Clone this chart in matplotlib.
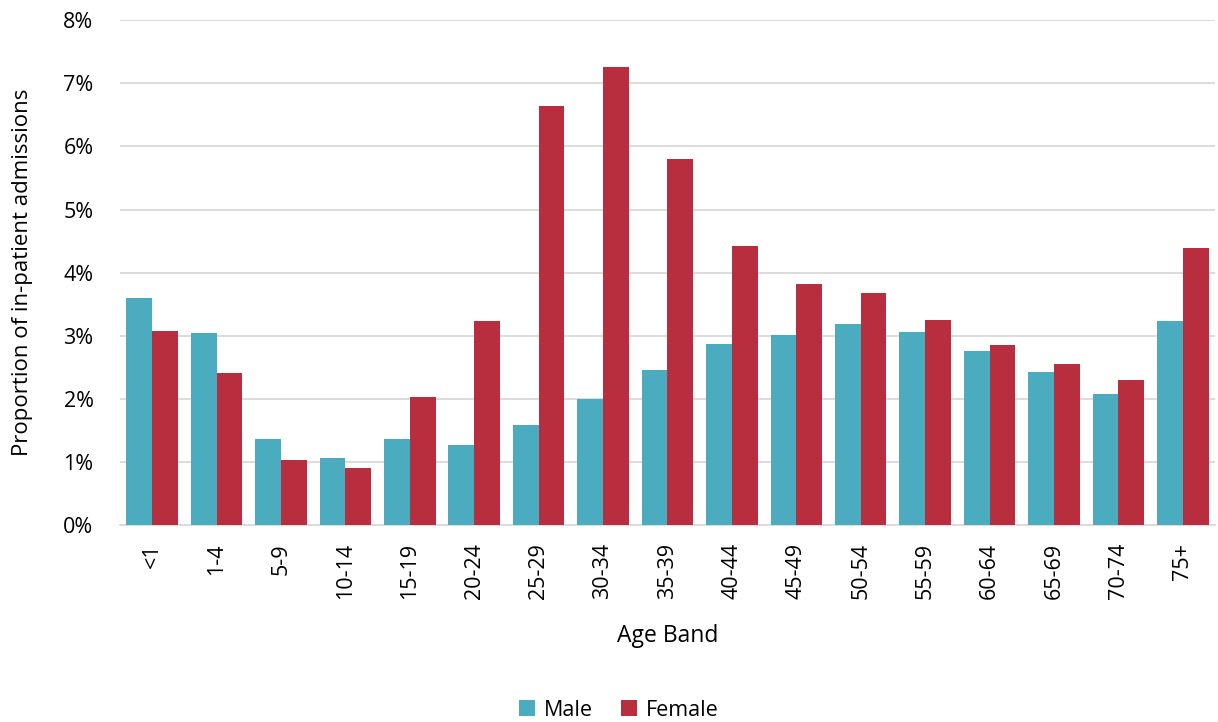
import matplotlib
matplotlib.use('Agg')
import matplotlib.pyplot as plt
import numpy as np

plt.rcParams['font.family'] = ['Open Sans', 'DejaVu Sans']

age_bands = ['<1', '1-4', '5-9', '10-14', '15-19', '20-24', '25-29', '30-34', '35-39',
             '40-44', '45-49', '50-54', '55-59', '60-64', '65-69', '70-74', '75+']
male = [3.60, 3.04, 1.36, 1.06, 1.36, 1.27, 1.58, 2.00, 2.46,
        2.87, 3.01, 3.19, 3.06, 2.76, 2.42, 2.08, 3.23]
female = [3.07, 2.41, 1.03, 0.90, 2.03, 3.23, 6.64, 7.26, 5.80,
          4.42, 3.82, 3.68, 3.25, 2.85, 2.55, 2.30, 4.39]

fig = plt.figure(figsize=(12.18, 7.22), dpi=100)
ax = fig.add_axes([0.0985, 0.2729, 0.899, 0.699])

x = np.arange(len(age_bands))
w = 0.4
ax.bar(x - w / 2, male, w, color='#4BACC0', label='Male', zorder=3)
ax.bar(x + w / 2, female, w, color='#B82E3E', label='Female', zorder=3)

ax.set_xlim(-0.5, len(age_bands) - 0.5)
ax.set_ylim(0, 8)
ax.set_yticks(range(0, 9))
ax.set_yticklabels([f'{i}%' for i in range(0, 9)], fontsize=15.5)
ax.set_xticks(x)
ax.set_xticklabels(age_bands, rotation=90, fontsize=15.5)
ax.tick_params(axis='x', length=0, pad=13)
ax.tick_params(axis='y', length=0, pad=19)

ax.grid(axis='y', color='#D9D9D9', linewidth=1.3, zorder=0)
for s in ['top', 'right', 'left']:
    ax.spines[s].set_visible(False)
ax.spines['bottom'].set_color('#D9D9D9')
ax.spines['bottom'].set_linewidth(1.3)

ax.set_xlabel('Age Band', fontsize=16.5, labelpad=18)
ax.set_ylabel('Proportion of in-patient admissions', fontsize=16, labelpad=22)

fig.legend(loc='lower center', bbox_to_anchor=(0.508, -0.025), ncol=2, frameon=False,
           fontsize=15.5, handlelength=0.75, handleheight=0.75, handletextpad=0.4,
           columnspacing=1.3)

fig.savefig('out.png', dpi=100)
